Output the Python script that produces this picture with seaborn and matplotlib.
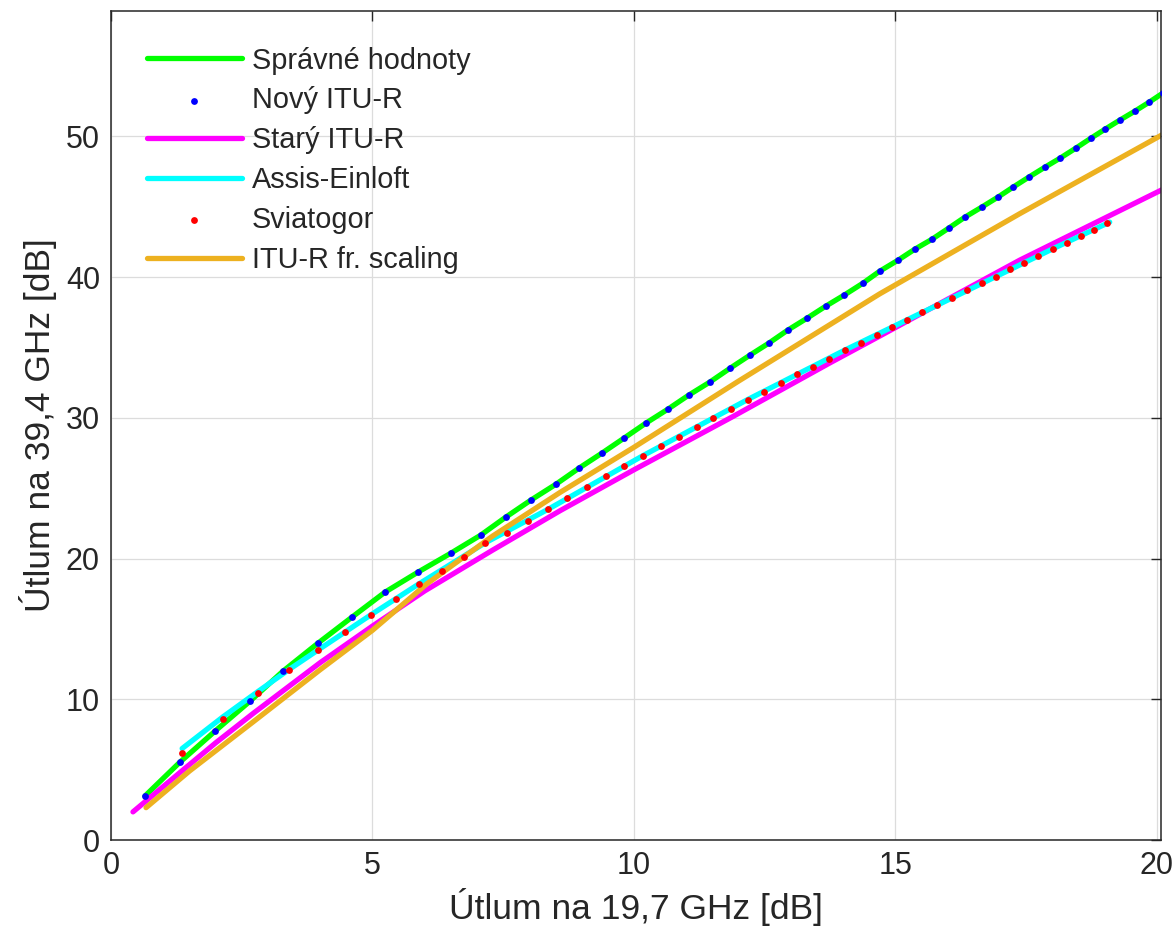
import matplotlib
matplotlib.use("Agg")
import matplotlib.pyplot as plt
import seaborn as sns

# Values
# Správné hodnoty (line) and Nový ITU-R (dots) lie on the same points
spravne_x = [0.65, 1.32, 1.99, 2.66, 3.29, 3.96, 4.61, 5.24, 5.87, 6.50, 7.07, 7.55,
             8.03, 8.51, 8.95, 9.39, 9.81, 10.23, 10.65, 11.05, 11.45, 11.84, 12.22,
             12.58, 12.94, 13.31, 13.67, 14.02, 14.38, 14.70, 15.05, 15.37, 15.70,
             16.02, 16.33, 16.65, 16.96, 17.25, 17.55, 17.86, 18.15, 18.45, 18.74,
             19.01, 19.29, 19.58, 19.85, 20.11]
spravne_y = [3.13, 5.54, 7.74, 9.87, 12.0, 13.99, 15.84, 17.61, 19.03, 20.38, 21.66,
             22.94, 24.15, 25.28, 26.42, 27.49, 28.55, 29.62, 30.61, 31.61, 32.53,
             33.52, 34.45, 35.30, 36.22, 37.07, 37.93, 38.71, 39.56, 40.41, 41.19,
             41.97, 42.68, 43.47, 44.25, 44.96, 45.67, 46.38, 47.09, 47.80, 48.44,
             49.15, 49.86, 50.50, 51.14, 51.78, 52.41, 53.05]
novy_x = spravne_x
novy_y = spravne_y

stary_x = [0.42, 1.32, 2.0, 2.72, 4.0, 5.0, 6.0, 7.3, 8.59, 10.0, 11.9, 13.75,
           14.70, 17.38, 20.1]
stary_y = [2.0, 4.8, 6.9, 9.0, 12.6, 15.2, 17.7, 20.6, 23.4, 26.3, 30.1, 33.9,
           35.8, 41.2, 46.2]

assis_x = [1.36, 2.14, 2.81, 3.40, 3.96, 4.97, 5.89, 7.15, 8.36, 10.17, 12.18,
           14.03, 16.08, 18.01, 19.10]
assis_y = [6.5, 8.75, 10.55, 12.1, 13.5, 16.0, 18.2, 21.1, 23.5, 27.3, 31.3,
           34.8, 38.5, 42.0, 43.9]

sviat_x = [1.36, 2.14, 2.81, 3.40, 3.96, 4.47, 4.97, 5.45, 5.89, 6.33, 6.75, 7.15,
           7.57, 7.97, 8.36, 8.72, 9.10, 9.46, 9.81, 10.17, 10.52, 10.86, 11.20,
           11.51, 11.85, 12.18, 12.49, 12.81, 13.12, 13.42, 13.73, 14.03, 14.34,
           14.65, 14.93, 15.22, 15.51, 15.79, 16.08, 16.37, 16.65, 16.92, 17.19,
           17.46, 17.72, 18.01, 18.28, 18.55, 18.80, 19.04]
sviat_y = [6.18, 8.59, 10.44, 12.07, 13.49, 14.77, 15.98, 17.12, 18.18, 19.11,
           20.10, 21.09, 21.80, 22.66, 23.51, 24.29, 25.07, 25.85, 26.56, 27.27,
           27.98, 28.62, 29.33, 29.97, 30.61, 31.25, 31.82, 32.46, 33.10, 33.59,
           34.16, 34.80, 35.30, 35.87, 36.43, 36.93, 37.50, 38.00, 38.49, 39.06,
           39.56, 39.99, 40.55, 40.98, 41.48, 41.97, 42.40, 42.90, 43.32, 43.82]

scaling_x = [0.67, 1.5, 2.72, 4.0, 5.0, 6.04, 7.30, 8.59, 10.0, 12.0, 14.7,
             17.38, 20.1]
scaling_y = [2.3, 4.9, 8.4, 12.1, 14.9, 18.2, 21.6, 24.7, 27.9, 32.6, 38.8,
             44.5, 50.1]

# Style
sns.set_style("whitegrid")
plt.rcParams['font.family'] = ['Liberation Sans', 'DejaVu Sans']

fig = plt.figure(figsize=(11.76, 9.39), dpi=100)
ax = fig.add_axes([0.0944, 0.1054, 0.8928, 0.8829])

lw = 3.8
ms = 24
sns.lineplot(x=spravne_x, y=spravne_y, ax=ax, color='#00FF00', linewidth=lw,
             sort=False, estimator=None, label='Správné hodnoty')
sns.scatterplot(x=novy_x, y=novy_y, ax=ax, color='#0000FF', s=ms, linewidth=0,
                label='Nový ITU-R', zorder=3)
sns.lineplot(x=stary_x, y=stary_y, ax=ax, color='#FF00FF', linewidth=lw,
             sort=False, estimator=None, label='Starý ITU-R')
sns.lineplot(x=assis_x, y=assis_y, ax=ax, color='#00FFFF', linewidth=lw,
             sort=False, estimator=None, label='Assis-Einloft')
sns.scatterplot(x=sviat_x, y=sviat_y, ax=ax, color='#FF0000', s=ms, linewidth=0,
                label='Sviatogor', zorder=5)
sns.lineplot(x=scaling_x, y=scaling_y, ax=ax, color='#EDB120', linewidth=lw,
             sort=False, estimator=None, label='ITU-R fr. scaling')

# Axes
ax.set_xlim(0, 20.08)
ax.set_ylim(0, 58.9)
ax.set_xticks([0, 5, 10, 15, 20])
ax.set_yticks([0, 10, 20, 30, 40, 50])
ax.grid(True, color='#dcdcdc', linewidth=0.9)
ax.set_axisbelow(True)
for sp in ax.spines.values():
    sp.set_color('#262626')
    sp.set_linewidth(1.1)
ax.tick_params(direction='in', length=7, width=1, colors='#262626',
               labelsize=22, top=True, right=True, pad=8)
ax.set_xlabel('Útlum na 19,7 GHz [dB]', fontsize=25.5, color='#262626', labelpad=5)
ax.set_ylabel('Útlum na 39,4 GHz [dB]', fontsize=25.5, color='#262626', labelpad=6)

# Legend (no box, MATLAB style)
ax.legend(loc='upper left', frameon=False, fontsize=20.8, handlelength=3.3,
          handletextpad=0.35, labelspacing=0.41, borderaxespad=0.4,
          bbox_to_anchor=(0.012, 0.985), scatterpoints=1)

fig.savefig('out.png', dpi=100)
